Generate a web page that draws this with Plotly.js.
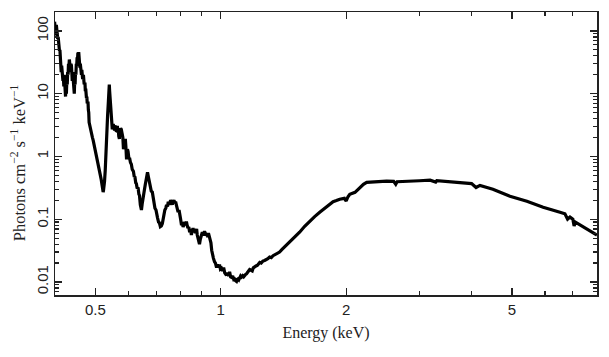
<!DOCTYPE html>
<html>
<head>
<meta charset="utf-8">
<script src="https://cdn.plot.ly/plotly-3.0.1.min.js"></script>
<style>
  html, body { margin: 0; padding: 0; background: #fff; }
  #chart { width: 609px; height: 357px; }
</style>
</head>
<body>
<div id="chart"></div>
<script>
// ---- Data ----
// Energy (keV) and flux (photons cm^-2 s^-1 keV^-1), low-energy part
const energyLow = [
  0.399, 0.400, 0.401, 0.402, 0.403, 0.404, 0.405, 0.406, 0.407, 0.408,
  0.409, 0.410, 0.411, 0.412, 0.413, 0.414, 0.415, 0.416, 0.417, 0.418,
  0.419, 0.420, 0.421, 0.422, 0.423, 0.424, 0.425, 0.426, 0.427, 0.428,
  0.429, 0.430, 0.431, 0.432, 0.433, 0.434, 0.435, 0.436, 0.437, 0.438,
  0.439, 0.440, 0.441, 0.442, 0.443, 0.444, 0.445, 0.446, 0.447, 0.448,
  0.449, 0.450, 0.451, 0.452, 0.453, 0.454, 0.455, 0.456, 0.457, 0.458,
  0.459, 0.460, 0.461, 0.462, 0.463, 0.464, 0.466, 0.468, 0.470, 0.472,
  0.473, 0.474, 0.476, 0.477, 0.478, 0.480, 0.481, 0.482, 0.483, 0.485,
  0.487, 0.489, 0.490, 0.492, 0.494, 0.496, 0.497, 0.499, 0.500, 0.502,
  0.503, 0.505, 0.507, 0.509, 0.511, 0.513, 0.514, 0.516, 0.517, 0.519,
  0.520, 0.522, 0.523, 0.525, 0.526, 0.528, 0.529, 0.531, 0.532, 0.534,
  0.535, 0.537, 0.538, 0.540, 0.541, 0.543, 0.544, 0.546, 0.547, 0.549,
  0.550, 0.552, 0.554, 0.556, 0.557, 0.559, 0.560, 0.562, 0.563, 0.565,
  0.566, 0.568, 0.569, 0.571, 0.572, 0.574, 0.575, 0.577, 0.578
];
const fluxLow = [
  140, 95, 120, 85, 125, 90, 100, 75, 80, 58,
  65, 48, 50, 33, 35, 22, 28, 20, 25, 16,
  18, 13, 20, 14, 12, 9, 14, 10, 16, 14,
  22, 20, 30, 26, 35, 28, 32, 22, 30, 28,
  22, 16, 22, 15, 18, 12, 10, 16, 14, 22,
  20, 30, 28, 38, 35, 45, 40, 46, 33, 36,
  26, 30, 22, 26, 20, 24, 17, 20, 14, 15,
  11, 12, 8.5, 9, 7, 7.5, 5.5, 5, 3.5, 3,
  2.6, 2.3, 2.2, 2.0, 1.8, 1.6, 1.5, 1.3, 1.15, 1.1,
  1.0, 0.9, 0.82, 0.72, 0.62, 0.55, 0.5, 0.44, 0.4, 0.34,
  0.32, 0.27, 0.29, 0.33, 0.4, 0.6, 0.9, 1.5, 2.1, 3.2,
  4.5, 7, 10, 14, 11, 7, 5, 3.6, 3.0, 2.7,
  3.2, 3.3, 2.8, 2.6, 3.0, 3.1, 2.6, 2.5, 2.9, 2.9,
  2.4, 2.5, 2.1, 1.9, 2.3, 2.6, 2.8, 2.7, 2.5
];
// middle part (line forest down to the ~1.1 keV minimum)
const energyMid = [
  0.580, 0.582, 0.584, 0.587, 0.590, 0.592, 0.594, 0.597, 0.599, 0.602,
  0.604, 0.607, 0.610, 0.613, 0.617, 0.620, 0.622, 0.625, 0.627, 0.630,
  0.633, 0.636, 0.638, 0.641, 0.645, 0.648, 0.650, 0.653, 0.656, 0.659,
  0.662, 0.664, 0.667, 0.670, 0.672, 0.675, 0.678, 0.681, 0.685, 0.688,
  0.692, 0.695, 0.699, 0.702, 0.705, 0.709, 0.712, 0.716, 0.720, 0.724,
  0.727, 0.731, 0.734, 0.738, 0.741, 0.745, 0.748, 0.751, 0.755, 0.758,
  0.761, 0.765, 0.768, 0.772, 0.776, 0.779, 0.783, 0.787, 0.790, 0.794,
  0.797, 0.801, 0.805, 0.808, 0.812, 0.816, 0.820, 0.824, 0.827, 0.831,
  0.834, 0.838, 0.842, 0.846, 0.850, 0.854, 0.858, 0.862, 0.866, 0.870,
  0.875, 0.878, 0.882, 0.886, 0.889, 0.893, 0.896, 0.900, 0.903, 0.907,
  0.910, 0.914, 0.918, 0.922, 0.926, 0.930, 0.934, 0.937, 0.940, 0.944,
  0.947, 0.951, 0.955, 0.960, 0.966, 0.971, 0.977, 0.982, 0.988, 0.993,
  0.998, 1.004, 1.010, 1.016, 1.022, 1.027, 1.032, 1.038, 1.044, 1.050,
  1.056, 1.062, 1.068, 1.074, 1.079, 1.085, 1.091, 1.096, 1.100, 1.105,
  1.110, 1.116, 1.122, 1.129, 1.135, 1.140, 1.147, 1.153, 1.160, 1.166,
  1.173, 1.180, 1.190, 1.197
];
const fluxMid = [
  2.4, 2.0, 1.3, 1.7, 1.9, 1.4, 0.9, 1.3, 1.2, 0.9,
  0.95, 0.8, 0.75, 0.62, 0.58, 0.47, 0.48, 0.38, 0.37, 0.31,
  0.32, 0.25, 0.24, 0.17, 0.14, 0.18, 0.22, 0.24, 0.3, 0.36,
  0.44, 0.5, 0.56, 0.48, 0.43, 0.38, 0.36, 0.28, 0.27, 0.21,
  0.19, 0.15, 0.14, 0.11, 0.105, 0.09, 0.088, 0.076, 0.078, 0.085,
  0.1, 0.12, 0.14, 0.15, 0.17, 0.16, 0.19, 0.17, 0.185, 0.2,
  0.19, 0.17, 0.19, 0.2, 0.18, 0.19, 0.165, 0.15, 0.13, 0.14,
  0.11, 0.1, 0.08, 0.09, 0.075, 0.085, 0.09, 0.08, 0.092, 0.078,
  0.072, 0.075, 0.062, 0.07, 0.056, 0.065, 0.072, 0.062, 0.068, 0.06,
  0.07, 0.056, 0.05, 0.044, 0.04, 0.048, 0.052, 0.058, 0.062, 0.055,
  0.058, 0.064, 0.06, 0.055, 0.058, 0.052, 0.06, 0.055, 0.054, 0.05,
  0.042, 0.032, 0.026, 0.024, 0.021, 0.02, 0.017, 0.019, 0.017, 0.019,
  0.016, 0.0165, 0.015, 0.017, 0.014, 0.0135, 0.0128, 0.014, 0.0125, 0.0145,
  0.012, 0.0118, 0.0125, 0.011, 0.0112, 0.0105, 0.0102, 0.011, 0.0112, 0.0108,
  0.0118, 0.0125, 0.012, 0.0126, 0.0121, 0.0128, 0.0132, 0.0135, 0.0145, 0.015,
  0.0158, 0.0155, 0.0150, 0.0168
];
// high-energy part (smooth continuum hump)
const energyHigh = [
  1.205, 1.215, 1.225, 1.240, 1.250, 1.262, 1.274, 1.285, 1.297, 1.310,
  1.322, 1.335, 1.347, 1.365, 1.384, 1.403, 1.423, 1.443, 1.463, 1.500,
  1.546, 1.590, 1.635, 1.680, 1.728, 1.780, 1.826, 1.860, 1.895, 1.930,
  1.980, 2.000, 2.020, 2.040, 2.100, 2.156, 2.200, 2.240, 2.300, 2.350,
  2.410, 2.500, 2.600, 2.630, 2.650, 2.750, 2.890, 3.000, 3.180, 3.280,
  3.300, 3.490, 3.810, 4.000, 4.100, 4.190, 4.500, 4.945, 5.430, 5.940,
  6.520, 6.700, 6.800, 6.890, 7.000, 7.050, 7.100, 7.410, 7.700, 8.000
];
const fluxHigh = [
  0.0175, 0.018, 0.0185, 0.0205, 0.020, 0.0215, 0.022, 0.0225, 0.0235, 0.025,
  0.0245, 0.0262, 0.027, 0.028, 0.030, 0.033, 0.036, 0.040, 0.043, 0.051,
  0.062, 0.077, 0.093, 0.11, 0.129, 0.15, 0.173, 0.19, 0.198, 0.208,
  0.215, 0.195, 0.228, 0.25, 0.268, 0.32, 0.36, 0.387, 0.392, 0.385,
  0.40, 0.405, 0.40, 0.36, 0.395, 0.402, 0.405, 0.41, 0.418, 0.39,
  0.412, 0.40, 0.385, 0.37, 0.32, 0.345, 0.30, 0.232, 0.193, 0.155,
  0.129, 0.122, 0.100, 0.108, 0.100, 0.078, 0.09, 0.075, 0.065, 0.056
];

const energyKeV = energyLow.concat(energyMid, energyHigh);
const fluxPhotons = fluxLow.concat(fluxMid, fluxHigh);

// tick labels
const xTickVals = [0.5, 1, 2, 5];
const xTickText = ["0.5", "1", "2", "5"];
const yTickVals = [0.01, 0.1, 1, 10, 100];
const yTickText = ["0.01", "0.1", "1", "10", "100"];

// minor tick positions (style only)
const xMinor = [0.4, 0.6, 0.7, 0.8, 0.9, 3, 4, 6, 7, 8];
const yMinor = [];
[0.001, 0.01, 0.1, 1, 10, 100].forEach(d => {
  for (let k = 2; k <= 9; k++) yMinor.push(+(d * k).toPrecision(3));
});

const trace = {
  x: energyKeV,
  y: fluxPhotons,
  type: 'scatter',
  mode: 'lines',
  line: { color: '#000', width: 3.2 },
  hoverinfo: 'skip'
};

const axisCommon = {
  type: 'log',
  showgrid: false,
  zeroline: false,
  showline: true,
  mirror: 'ticks',
  linecolor: '#222',
  linewidth: 1.5,
  ticks: 'inside',
  ticklen: 7,
  tickwidth: 1.2,
  tickcolor: '#222',
  tickmode: 'array',
  tickfont: { family: 'Liberation Sans, Arial, sans-serif', size: 15, color: '#222' }
};

const layout = {
  width: 609,
  height: 357,
  margin: { l: 55, r: 12, t: 12, b: 62 },
  paper_bgcolor: '#fff',
  plot_bgcolor: '#fff',
  showlegend: false,
  xaxis: Object.assign({}, axisCommon, {
    range: [Math.log10(0.4), Math.log10(8)],
    tickvals: xTickVals,
    ticktext: xTickText,
    minor: { tickmode: 'array', tickvals: xMinor, ticks: 'inside', ticklen: 4, tickwidth: 1.2, tickcolor: '#222', showgrid: false },
    title: { text: 'Energy (keV)', font: { family: 'Liberation Serif, Times New Roman, serif', size: 16, color: '#222' }, standoff: 10 }
  }),
  yaxis: Object.assign({}, axisCommon, {
    range: [Math.log10(0.0062), Math.log10(200)],
    tickvals: yTickVals,
    ticktext: yTickText,
    tickangle: -90,
    minor: { tickmode: 'array', tickvals: yMinor, ticks: 'inside', ticklen: 4, tickwidth: 1.2, tickcolor: '#222', showgrid: false },
    title: { text: '' }
  }),
  annotations: [{
    text: 'Photons cm<sup>−2</sup> s<sup>−1</sup> keV<sup>−1</sup>',
    textangle: -90,
    xref: 'paper', yref: 'paper',
    x: -0.068, y: 0.466,
    xanchor: 'center', yanchor: 'middle',
    showarrow: false,
    font: { family: 'Liberation Serif, Times New Roman, serif', size: 16.5, color: '#222' }
  }]
};

Plotly.newPlot('chart', [trace], layout, { displayModeBar: false, staticPlot: true });
</script>
</body>
</html>
